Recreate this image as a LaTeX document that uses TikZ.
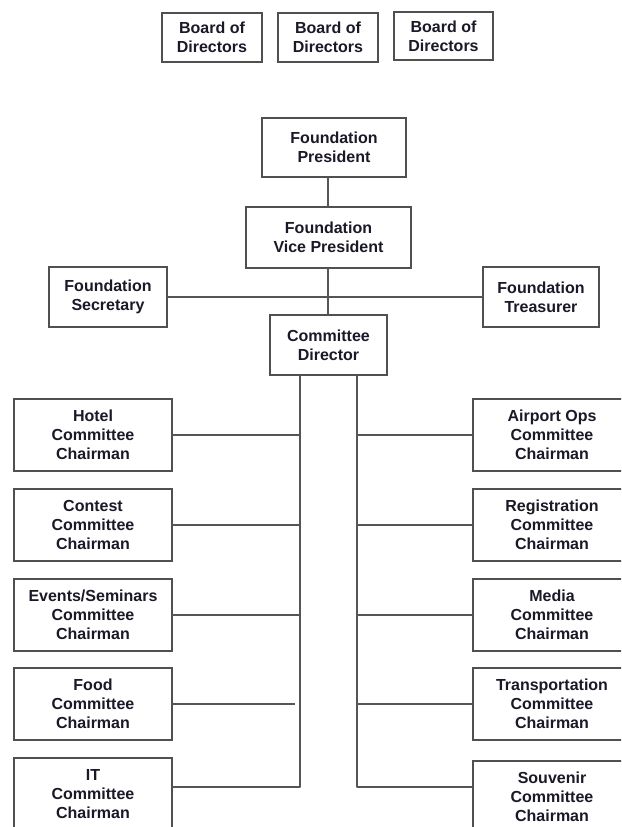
\documentclass[tikz,border=0pt]{standalone}
\usepackage{fontspec}
\setmainfont{Liberation Sans}
\usepackage{tikz}

\tikzset{
  orgBox/.style={draw=boxColor,line width=1.4pt,fill=white,inner sep=0pt,outer sep=0pt,
    align=center,text=textColor,font=\bfseries\fontsize{16}{18.8}\selectfont},
  orgLine/.style={draw=lineColor,line width=1.4pt,line join=round}
}

\begin{document}
\begin{tikzpicture}[x=1pt,y=1pt]
\definecolor{fillColor}{RGB}{255,255,255}
\definecolor{boxColor}{RGB}{80,80,80}
\definecolor{lineColor}{RGB}{85,85,85}
\definecolor{textColor}{RGB}{25,25,40}
\path[use as bounding box,fill=fillColor] (0,0) rectangle (621,827);
\begin{scope}
\path[clip] (0,0) rectangle (621,827);

\node[orgBox,minimum width=100,minimum height=49] (board1) at (212,789.5) {Board of\\Directors};

\node[orgBox,minimum width=100,minimum height=49] (board2) at (328,789.5) {Board of\\Directors};

\node[orgBox,minimum width=99,minimum height=48] (board3) at (443.5,791) {Board of\\Directors};

\node[orgBox,minimum width=144,minimum height=59] (president) at (334,679.5) {Foundation\\President};

\node[orgBox,minimum width=165,minimum height=61] (vicePresident) at (328.5,589.5) {Foundation\\Vice President};

\node[orgBox,minimum width=118,minimum height=60] (secretary) at (108,530) {Foundation\\Secretary};

\node[orgBox,minimum width=116,minimum height=60] (treasurer) at (541,530) {Foundation\\Treasurer};

\node[orgBox,minimum width=117,minimum height=60] (director) at (328.5,482) {Committee\\Director};

\coordinate (spine) at (328,530);
\coordinate (leftEnd) at (300,40);
\coordinate (rightEnd) at (357,40);

\path[orgLine] (president.south -| spine) -- (vicePresident.north -| spine);

\path[orgLine] (vicePresident.south -| spine) -- (director.north -| spine);

\path[orgLine] (secretary.east) -- (treasurer.west);

% left column
\node[orgBox,minimum width=158,minimum height=72] (hotel) at (93,392) {Hotel\\Committee\\Chairman};

\node[orgBox,minimum width=158,minimum height=72] (contest) at (93,302) {Contest\\Committee\\Chairman};

\node[orgBox,minimum width=158,minimum height=72] (events) at (93,212) {Events/Seminars\\Committee\\Chairman};

\node[orgBox,minimum width=158,minimum height=72] (food) at (93,123) {Food\\Committee\\Chairman};

\node[orgBox,minimum width=158,minimum height=72] (it) at (93,33) {IT\\Committee\\Chairman};

\path[orgLine] (director.south -| leftEnd) -- (leftEnd) -- (leftEnd -| it.east);

\path[orgLine] (hotel.east) -- (hotel.east -| leftEnd);

\path[orgLine] (contest.east) -- (contest.east -| leftEnd);

\path[orgLine] (events.east) -- (events.east -| leftEnd);

\path[orgLine] (food.east) -- ([xshift=-5pt]food.east -| leftEnd);

% right column
\node[orgBox,minimum width=158,minimum height=72] (airport) at (552,392) {Airport Ops\\Committee\\Chairman};

\node[orgBox,minimum width=158,minimum height=72] (registration) at (552,302) {Registration\\Committee\\Chairman};

\node[orgBox,minimum width=158,minimum height=72] (media) at (552,212) {Media\\Committee\\Chairman};

\node[orgBox,minimum width=158,minimum height=72] (transport) at (552,123) {Transportation\\Committee\\Chairman};

\node[orgBox,minimum width=158,minimum height=72] (souvenir) at (552,30) {Souvenir\\Committee\\Chairman};

\path[orgLine] (director.south -| rightEnd) -- (rightEnd) -- (rightEnd -| souvenir.west);

\path[orgLine] (airport.west -| rightEnd) -- (airport.west);

\path[orgLine] (registration.west -| rightEnd) -- (registration.west);

\path[orgLine] (media.west -| rightEnd) -- (media.west);

\path[orgLine] (transport.west -| rightEnd) -- (transport.west);
\end{scope}
\end{tikzpicture}
\end{document}
